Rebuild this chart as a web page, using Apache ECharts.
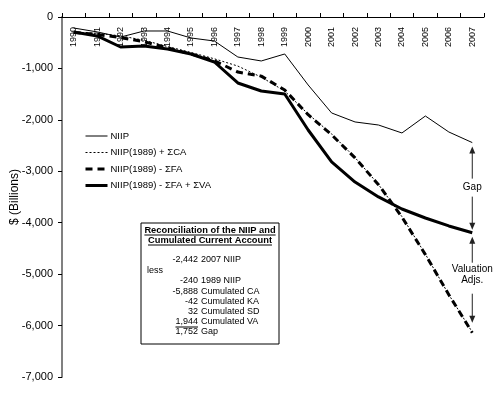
<!DOCTYPE html>
<html><head><meta charset="utf-8">
<script src="https://cdn.jsdelivr.net/npm/echarts@6/dist/echarts.min.js"></script>
<style>html,body{margin:0;padding:0;background:#fff}#c{width:501px;height:394px}</style>
</head><body><div id="c"></div>
<script>
var years = ['1990','1991','1992','1993','1994','1995','1996','1997','1998','1999','2000','2001','2002','2003','2004','2005','2006','2007'];
var niip = [-214,-290,-390,-272,-272,-408,-467,-778,-855,-719,-1322,-1866,-2041,-2100,-2255,-1925,-2236,-2442];
var niipCA = [-300,-316,-367,-452,-574,-688,-813,-954,-1169,-1440,-1888,-2273,-2734,-3257,-3882,-4611,-5399,-6128];
var niipFA = [-300,-340,-400,-480,-600,-720,-850,-1070,-1150,-1420,-1900,-2290,-2740,-3260,-3890,-4620,-5400,-6138];
var niipVA = [-292,-369,-583,-564,-622,-719,-875,-1283,-1439,-1497,-2197,-2819,-3210,-3499,-3733,-3908,-4063,-4194];
var seriesNames = ['NIIP','NIIP(1989) + \u03A3CA','NIIP(1989) - \u03A3FA','NIIP(1989) - \u03A3FA + \u03A3VA'];
var reconTitle = ['Reconciliation of the NIIP and','Cumulated Current Account'];
var reconValues = ['-2,442','','-240','-5,888','-42','32','1,944','1,752'];
var reconLabels = ['2007 NIIP','less','1989 NIIP','Cumulated CA','Cumulated KA','Cumulated SD','Cumulated VA','Gap'];

var FONT = "'Liberation Sans', Arial, sans-serif";
var chart = echarts.init(document.getElementById('c'), null, {renderer:'canvas'});
function fmt(v){ return v.toLocaleString('en-US'); }
chart.setOption({
  animation:false,
  textStyle:{fontFamily:FONT,color:'#000'},
  grid:{left:62,right:17,top:17,bottom:17,containLabel:false,outerBoundsMode:'none'},
  legend:{
    orient:'vertical', left:84, top:131, padding:0, itemWidth:22, itemHeight:10, itemGap:6.5,
    itemStyle:{opacity:0},
    lineStyle:{width:'inherit',type:'inherit',color:'#000'},
    textStyle:{fontSize:9.5,fontFamily:FONT,color:'#000',lineHeight:10,padding:[0,0,0,-2]},
    data:seriesNames
  },
  xAxis:{
    type:'category', data:years, position:'top', boundaryGap:true,
    axisLine:{lineStyle:{color:'#000',width:1}},
    axisTick:{show:true,inside:false,length:4,lineStyle:{color:'#000'}},
    axisLabel:{inside:true,rotate:90,interval:0,fontSize:9,margin:10,color:'#000',fontFamily:FONT},
    splitLine:{show:false}
  },
  yAxis:{
    type:'value', min:-7000, max:0, interval:1000,
    name:'$ (Billions)', nameLocation:'middle', nameRotate:90, nameGap:41, nameMoveOverlap:false,
    nameTextStyle:{fontSize:12,color:'#000',fontFamily:FONT},
    axisLine:{show:true,lineStyle:{color:'#808080',width:2}},
    axisTick:{show:true,length:4,lineStyle:{color:'#000'}},
    axisLabel:{fontSize:11,color:'#000',margin:9,fontFamily:FONT,formatter:function(v){return fmt(v);}},
    splitLine:{show:false}
  },
  series:[
    {name:seriesNames[0],type:'line',data:niip,symbol:'none',lineStyle:{color:'#000',width:1},itemStyle:{color:'#000'},z:4},
    {name:seriesNames[1],type:'line',data:niipCA,symbol:'none',lineStyle:{color:'#000',width:1,type:[2,2]},itemStyle:{color:'#000'},z:5},
    {name:seriesNames[2],type:'line',data:niipFA,symbol:'none',lineStyle:{color:'#000',width:3,type:[7,5]},itemStyle:{color:'#000'},z:3},
    {name:seriesNames[3],type:'line',data:niipVA,symbol:'none',lineStyle:{color:'#000',width:3},itemStyle:{color:'#000'},z:3}
  ]
});

// annotations
var ctx = document.createElement('canvas').getContext('2d');
function tw(font, s){ ctx.font = font; return ctx.measureText(s).width; }
var lastIdx = years.length-1;
var xp = chart.convertToPixel({xAxisIndex:0}, years[lastIdx]);
var yN = chart.convertToPixel({yAxisIndex:0}, niip[lastIdx]);
var yS = chart.convertToPixel({yAxisIndex:0}, niipVA[lastIdx]);
var yF = chart.convertToPixel({yAxisIndex:0}, niipFA[lastIdx]);
var AC = '#222';
function arrow(x, y1, y2){ // from y1 to tip y2
  var dir = y2 > y1 ? 1 : -1;
  return [
    {type:'line',shape:{x1:x,y1:y1,x2:x,y2:y2-dir*6},style:{stroke:AC,lineWidth:1}},
    {type:'polygon',shape:{points:[[x,y2],[x-3,y2-dir*7],[x+3,y2-dir*7]]},style:{fill:AC}}
  ];
}
var els = [];
var gMid = (yN+yS)/2;
els = els.concat(arrow(xp, gMid-9, yN+4), arrow(xp, gMid+9, yS-3));
els.push({type:'text',x:xp,y:gMid,style:{text:'Gap',font:'10px '+FONT,fill:'#000',align:'center',verticalAlign:'middle'}});
els = els.concat(arrow(xp, yS+30, yS+4), arrow(xp, yS+61, yF-10));
els.push({type:'text',x:xp,y:yS+37,style:{text:'Valuation',font:'10px '+FONT,fill:'#000',align:'center',verticalAlign:'middle'}});
els.push({type:'text',x:xp,y:yS+48,style:{text:'Adjs.',font:'10px '+FONT,fill:'#000',align:'center',verticalAlign:'middle'}});

// reconciliation box
var bx=141, by=223, bw=138, bh=121;
els.push({type:'rect',shape:{x:bx,y:by,width:bw,height:bh},style:{fill:'#fff',stroke:'#000',lineWidth:1},z:10});
var tFont = 'bold 9.3px '+FONT;
var cx = bx+bw/2;
reconTitle.forEach(function(t,i){
  var yy = by+7+i*10;
  els.push({type:'text',x:cx,y:yy,style:{text:t,font:tFont,fill:'#000',align:'center',verticalAlign:'middle'},z:11});
  var w = tw(tFont,t);
  els.push({type:'line',shape:{x1:cx-w/2,y1:yy+5,x2:cx+w/2,y2:yy+5},style:{stroke:'#000',lineWidth:1},z:11});
});
var bFont = '9px '+FONT;
var rowY = [260,271,281,292,302,312,322,332];
reconLabels.forEach(function(l,i){
  if(l==='less'){
    els.push({type:'text',x:147,y:rowY[i],style:{text:l,font:bFont,fill:'#000',align:'left',verticalAlign:'middle'},z:11});
    return;
  }
  els.push({type:'text',x:198,y:rowY[i],style:{text:reconValues[i],font:bFont,fill:'#000',align:'right',verticalAlign:'middle'},z:11});
  els.push({type:'text',x:201,y:rowY[i],style:{text:l,font:bFont,fill:'#000',align:'left',verticalAlign:'middle'},z:11});
  if(l==='Cumulated VA'){
    var w = tw(bFont,reconValues[i]);
    els.push({type:'line',shape:{x1:198-w,y1:rowY[i]+5,x2:198,y2:rowY[i]+5},style:{stroke:'#000',lineWidth:1},z:11});
  }
});
chart.setOption({graphic:{elements:els}});
</script></body></html>
